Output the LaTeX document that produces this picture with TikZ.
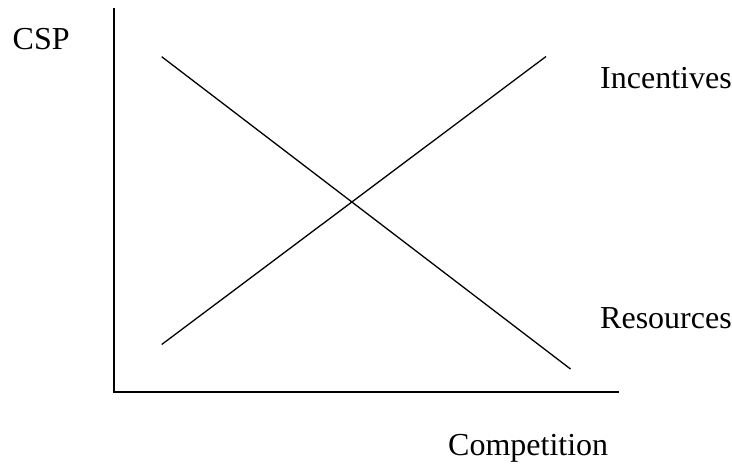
\documentclass[tikz,border=0pt]{standalone}
\usepackage{fontspec}
\setmainfont{Liberation Serif}
\begin{document}
\begin{tikzpicture}[x=1pt,y=-1pt,
  lbl/.style={inner sep=0pt,anchor=base west,font=\fontsize{32}{38}\selectfont},
  axisline/.style={line width=2pt},
  curve/.style={line width=1.3pt}]
\useasboundingbox (0,0) rectangle (732,464);
\coordinate (ytop) at (114,8);
\coordinate (orig) at (114,392);
\coordinate (xend) at (619,392);
\coordinate (rs) at (161.7,56.7);
\coordinate (re) at (570.5,369);
\coordinate (is) at (161.7,344.5);
\coordinate (ie) at (546,56.5);
\draw[axisline] (ytop) -- (orig) -- (xend);
\draw[curve] (rs) -- (re);
\draw[curve] (is) -- (ie);
\node[lbl] (csp) at (12.5,49.3) {CSP};
\node[lbl] (inc) at (600,88) {Incentives};
\node[lbl] (res) at (600,328) {Resources};
\node[lbl] (comp) at (448,455) {Competition};
\end{tikzpicture}
\end{document}
